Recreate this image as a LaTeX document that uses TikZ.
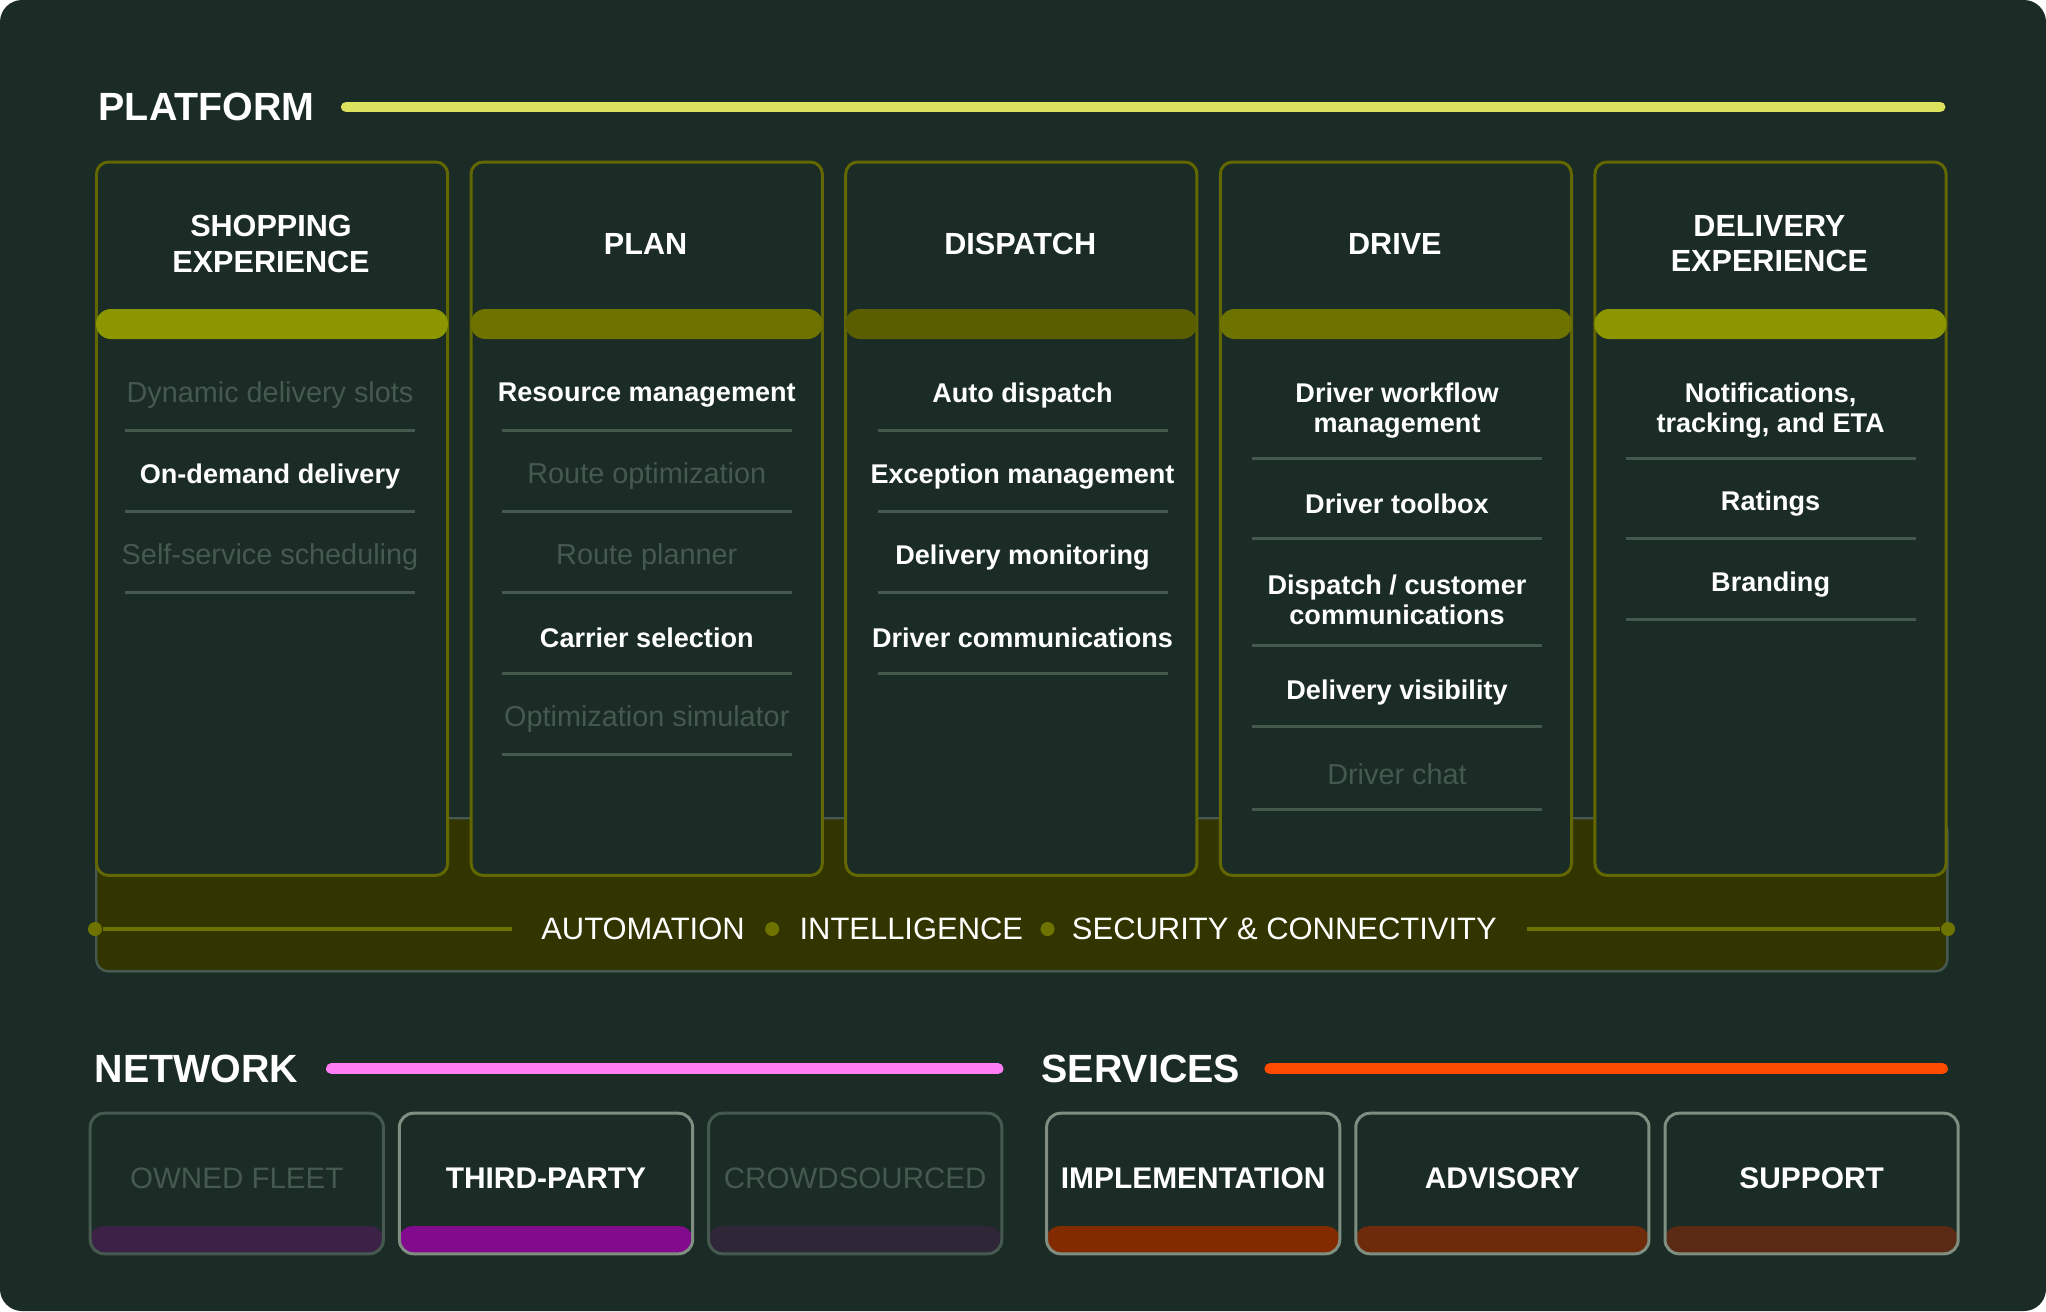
\documentclass[tikz,border=0pt]{standalone}
\usepackage{fontspec}
\setmainfont{Liberation Sans}
\usepackage{xcolor}
\usetikzlibrary{positioning}

\definecolor{panel}{HTML}{1B2B26}
\definecolor{dimgrey}{HTML}{46594F}
\definecolor{paleedge}{HTML}{7F8E80}
\definecolor{platlime}{HTML}{DCE25E}
\definecolor{olivebright}{HTML}{8C9600}
\definecolor{olivemid}{HTML}{6E7300}
\definecolor{olivedeep}{HTML}{5A5D00}
\definecolor{oliveedge}{HTML}{636700}
\definecolor{bandfill}{HTML}{333500}
\definecolor{netpink}{HTML}{FF7DF5}
\definecolor{servflame}{HTML}{FF4B00}
\definecolor{plumdark}{HTML}{3B2246}
\definecolor{plumbright}{HTML}{820A8C}
\definecolor{plumdeep}{HTML}{2F2637}
\definecolor{rustbright}{HTML}{832B00}
\definecolor{rustmid}{HTML}{6E2B0B}
\definecolor{rustdeep}{HTML}{5B2A14}

\begin{document}
\begin{tikzpicture}[
    x=0.01cm, y=-0.01cm,
    every node/.style={inner sep=0pt, text=white},
    section/.style={anchor=west, font=\fontsize{11.2}{13}\selectfont\bfseries},
    rule/.style={line width=3.1pt, line cap=round},
    column/.style={draw=oliveedge, line width=0.85pt, fill=panel, rounded corners=0.12cm,
        anchor=north west, minimum width=3.51cm, minimum height=7.13cm},
    headbar/.style={rounded corners=0.149cm},
    colhead/.style={align=center, font=\fontsize{8.7}{10}\selectfont\bfseries},
    item/.style={align=center, font=\fontsize{7.7}{8.5}\selectfont\bfseries},
    itemoff/.style={align=center, text=dimgrey, font=\fontsize{8.2}{8.5}\selectfont},
    sep/.style={draw=dimgrey, line width=0.85pt},
    band/.style={draw=dimgrey, line width=0.7pt, fill=bandfill, rounded corners=0.12cm,
        anchor=north west, minimum width=18.5cm, minimum height=1.53cm},
    bandtext/.style={font=\fontsize{8.8}{10}\selectfont},
    bandrule/.style={draw=olivemid, line width=1pt},
    dot/.style={circle, fill=olivemid, minimum size=0.14cm},
    tile/.style={draw=paleedge, line width=0.85pt, rounded corners=0.14cm, anchor=north west,
        minimum width=2.93cm, minimum height=1.405cm, text height=6.1pt, text depth=3pt,
        font=\fontsize{8.5}{10}\selectfont\bfseries},
    tileoff/.style={tile, draw=dimgrey, text=dimgrey, font=\fontsize{8.4}{10}\selectfont}
]

\useasboundingbox (0,0) rectangle (2046,1311);
\fill[white] (0,0) rectangle (2046,1311);
\fill[panel, rounded corners=0.22cm] (0,0) rectangle (2046,1311);

% Platform heading
\node[section] (platform) at (98,107) {PLATFORM};
\coordinate (platend) at (1940,107);
\draw[rule, platlime, shorten <=0.31cm] (platform.east) -- (platend);

% strip behind the columns
\node[band] (band) at (95,817) {};

% platform columns
\foreach \i/\head/\barcol in {0/{SHOPPING\\EXPERIENCE}/olivebright, 1/PLAN/olivemid,
    2/DISPATCH/olivedeep, 3/DRIVE/olivemid, 4/{DELIVERY\\EXPERIENCE}/olivebright} {
  \node[column] (col\i) at (95+374.6*\i,160.5) {};
  \node[colhead] (head\i) at (271+374.6*\i,244) {\head};
  \fill[\barcol, headbar] (96+374.6*\i,309) rectangle (448+374.6*\i,339);
}

% Shopping experience
\foreach \ty/\ly/\txt/\kind [count=\k] in {395.4/430.6/Dynamic delivery slots/itemoff,
    476.3/511.5/On-demand delivery/item, 557.2/592.4/Self-service scheduling/itemoff} {
  \node[\kind] (shop\k) at (270,\ty) {\txt};
  \draw[sep] (125,\ly) -- (415,\ly);
}

% Plan
\foreach \ty/\ly/\txt/\kind [count=\k] in {395.4/430.6/Resource management/item,
    476.3/511.5/Route optimization/itemoff, 557.2/592.4/Route planner/itemoff,
    638.1/673.3/Carrier selection/item, 719.0/754.2/Optimization simulator/itemoff} {
  \node[\kind] (plan\k) at (646.8,\ty) {\txt};
  \draw[sep] (501.8,\ly) -- (791.8,\ly);
}

% Dispatch
\foreach \ty/\ly/\txt/\kind [count=\k] in {395.4/430.6/Auto dispatch/item,
    476.3/511.5/Exception management/item, 557.2/592.4/Delivery monitoring/item,
    638.1/673.3/Driver communications/item} {
  \node[\kind] (disp\k) at (1022.5,\ty) {\txt};
  \draw[sep] (877.5,\ly) -- (1167.5,\ly);
}

% Drive
\foreach \ty/\ly/\txt/\kind [count=\k] in {410.5/458/{Driver workflow\\management}/item,
    503.7/538.9/Driver toolbox/item, 599.6/645.9/{Dispatch / customer\\communications}/item,
    692.9/726.8/Delivery visibility/item, 773.8/809/Driver chat/itemoff} {
  \node[\kind] (drive\k) at (1397,\ty) {\txt};
  \draw[sep] (1252,\ly) -- (1542,\ly);
}

% Delivery experience
\foreach \ty/\ly/\txt/\kind [count=\k] in {410.5/458/{Notifications,\\tracking, and ETA}/item,
    503.7/538.9/Ratings/item, 584.6/619.8/Branding/item} {
  \node[\kind] (deliv\k) at (1770.6,\ty) {\txt};
  \draw[sep] (1625.6,\ly) -- (1915.6,\ly);
}

% automation strip
\node[dot] (ldot) at (95,929) {};
\node[dot] (rdot) at (1948,929) {};
\node[bandtext] (auto) at (643,929) {AUTOMATION};
\node[dot, right=0.19cm of auto] (dot1) {};
\node[bandtext, right=0.19cm of dot1] (intel) {INTELLIGENCE};
\node[dot, right=0.16cm of intel] (dot2) {};
\node[bandtext, right=0.16cm of dot2] (secure) {SECURITY \& CONNECTIVITY};
\draw[bandrule, shorten >=0.29cm] (ldot) -- (auto.west);
\draw[bandrule, shorten <=0.30cm] (secure.east) -- (rdot);

% Network and services headings
\node[section] (network) at (94,1068.6) {NETWORK};
\coordinate (netend) at (998,1068.6);
\draw[rule, netpink, shorten <=0.325cm] (network.east) -- (netend);
\node[section] (services) at (1041,1068.6) {SERVICES};
\coordinate (servend) at (1942.5,1068.6);
\draw[rule, servflame, shorten <=0.29cm] (services.east) -- (servend);

% tiles
\foreach \tx/\name/\txt/\kind/\barcol in {88.7/owned/OWNED FLEET/tileoff/plumdark,
    397.9/third/THIRD-PARTY/tile/plumbright, 707.1/crowd/CROWDSOURCED/tileoff/plumdeep,
    1045.1/impl/IMPLEMENTATION/tile/rustbright, 1354.3/advis/ADVISORY/tile/rustmid,
    1663.5/supp/SUPPORT/tile/rustdeep} {
  \fill[\barcol, rounded corners=0.13cm] (\tx+1.5,1226) rectangle (\tx+294.5,1253.7);
  \node[\kind] (\name) at (\tx,1111.7) {\txt};
}

\end{tikzpicture}
\end{document}
